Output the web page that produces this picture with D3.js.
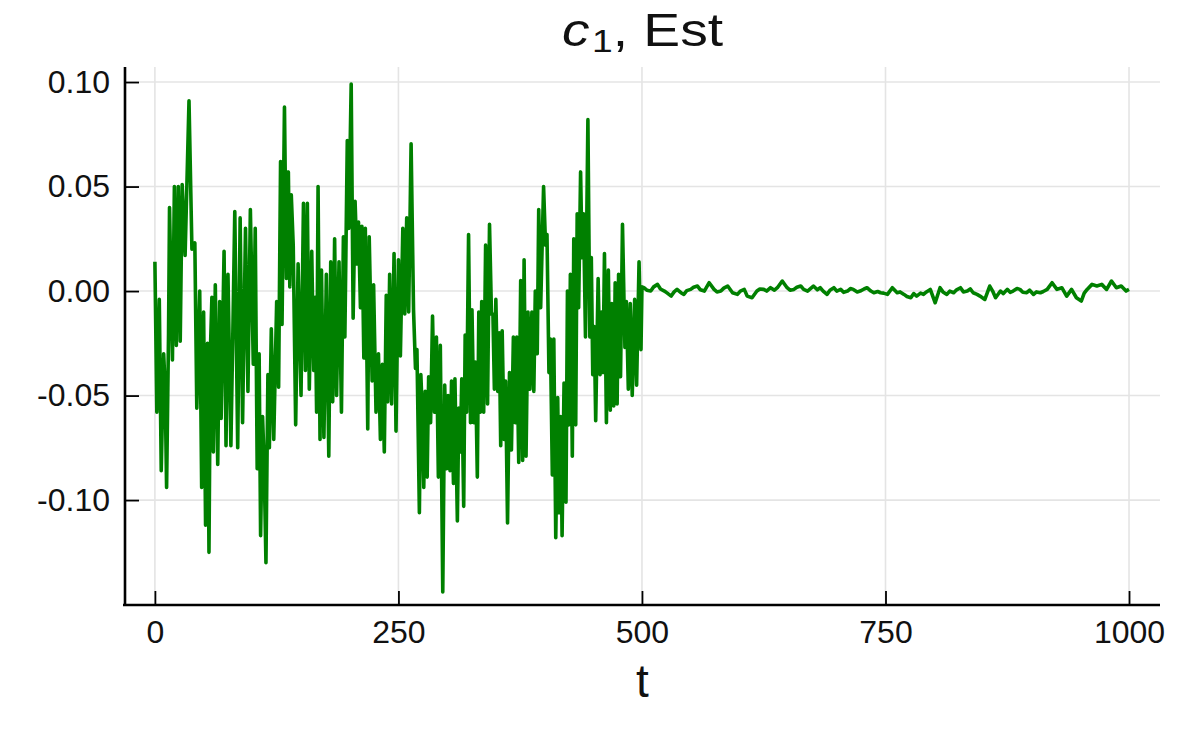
<!DOCTYPE html>
<html><head><meta charset="utf-8">
<script src="https://cdn.jsdelivr.net/npm/d3@7"></script>
<style>body{margin:0;background:#fff}svg{display:block}</style>
</head><body>
<svg id="chart" width="1196" height="734"></svg>
<script>
// ---- data ----
const xTicks = [0, 250, 500, 750, 1000];
const yTicks = [0.10, 0.05, 0.00, -0.05, -0.10];
const yTickLabels = ["0.10", "0.05", "0.00", "-0.05", "-0.10"];

const tEarly = [0,2,4.5,6.5,9,10.5,12,14,15,18,20,22,24,26,28,31,35,38,41,43,46,48,50,52,54,55.5,57,58.5,60,62,64.5,66.5,68,71,73,75,78,80,82,85,87.5,90,93,95.5,98,101,103,105,107,108.5,110.5,112,114,116,117.5,119.5,
122,125,127,129,130.5,133,135,137,138.5,140,142,144.5,147,150,152.5,154.5,156.5,158.5,161,163,164.5,166,167.5,169.5,171,173.5,176,178.5,180.5,182.5,184.5,186.5,189,191.5,193.5,195,197.5,199,201.5,203.5,205.5,207.5,209,211,212.5,214.5,216,218.5,220,223,224.5,227,229.5,231.5,233.5,235.5,237.5,239,241,243,245.5,247.5,
250,252,254.5,256.5,258.5,260.5,263,265.5,267.5,269,271.5,273,274.5,276,277.5,279.5,281,283,285,287,289,291,293,295.5,297.5,299.5,301,303,304.5,306.5,308,310.5,312,313.5,315,317,318.5,320,322,324,325.5,327.5,329,331,332.5,334,335.5,337.5,339.5,341.5,343.5,345.5,347,348.5,350,352,353.5,355,356.5,358.5,360,362,364,366,368,370,371.5,373.5,
375.5,377.5,379,381,383,385,387,389,390.5,392.5,394,396,399,401,402.5,404.5,406,408,409.5,411.5,413.5,415,416.5,418,420,422,423.5,425,426.5,428.5,430,432,433.5,435,437,438.5,440,442,444.5,446.5,448,449.5,451,452.5,455,457,458.5,460,461.5,463.5,465.5,467.5,469,471,472.5,474.5,476,478,480,482.5,484,486,488,490,492.5,494.5,497,499];
const cEarly = [0.014,-0.058,-0.004,-0.086,-0.030,-0.046,-0.094,-0.020,0.040,-0.033,0.050,-0.026,0.050,-0.024,0.051,0.017,0.091,0.020,0.023,-0.056,0.000,-0.094,-0.010,-0.112,-0.025,-0.125,-0.028,-0.003,-0.077,0.003,-0.083,-0.005,-0.061,0.019,-0.074,0.008,-0.074,-0.020,0.038,-0.075,0.035,-0.063,0.030,-0.048,0.039,-0.035,0.030,-0.085,-0.030,-0.117,-0.060,-0.080,-0.130,-0.040,-0.075,-0.018,
-0.071,-0.005,-0.046,0.062,-0.016,0.088,0.006,0.057,0.002,0.046,0.022,-0.064,0.013,-0.050,0.042,-0.038,0.042,-0.047,0.019,-0.038,-0.003,-0.058,0.050,-0.071,0.010,-0.070,0.008,-0.079,0.014,-0.053,0.025,-0.050,0.014,-0.058,0.026,-0.022,0.072,0.030,0.099,-0.013,0.043,0.013,0.033,-0.008,0.031,-0.032,0.030,-0.066,0.026,-0.043,0.003,-0.058,-0.030,-0.071,-0.035,-0.077,-0.002,-0.053,0.008,-0.054,0.018,-0.067,
0.015,-0.031,0.030,-0.011,0.035,-0.010,0.0705,-0.009,-0.037,-0.028,-0.106,-0.040,-0.058,-0.094,-0.048,-0.089,-0.041,-0.063,-0.012,-0.058,-0.022,-0.089,-0.026,-0.144,-0.045,-0.085,-0.050,-0.086,-0.043,-0.092,-0.042,-0.110,-0.056,-0.077,-0.042,-0.103,-0.021,-0.058,0.027,-0.063,-0.009,-0.063,-0.034,-0.089,-0.010,-0.058,-0.005,-0.058,0.022,-0.054,0.032,-0.011,-0.011,-0.047,-0.004,-0.048,-0.020,-0.074,-0.019,-0.071,-0.043,-0.111,-0.039,-0.076,-0.022,-0.063,-0.022,-0.082,
0.005,-0.081,0.015,-0.079,-0.010,-0.047,-0.010,-0.048,0.000,-0.030,0.039,-0.008,0.050,0.022,0.027,-0.039,-0.023,-0.088,-0.023,-0.118,-0.051,-0.106,-0.060,-0.117,-0.044,-0.101,0.000,-0.064,0.008,-0.079,0.025,-0.064,0.037,-0.008,0.057,0.016,0.037,-0.022,0.082,-0.022,0.016,-0.040,-0.017,-0.062,0.006,-0.040,-0.010,-0.039,0.018,-0.063,0.010,-0.057,-0.006,-0.055,0.004,-0.054,0.008,-0.041,0.032,-0.027,-0.005,-0.047,-0.006,-0.050,-0.004,-0.045,0.014,-0.028];

const tLate = [500,502,505,509,512,516,519,523,526,530,533,536,540,543,546,550,553,557,560,564,569,574,577,581,584,588,593,598,601,605,608,613,618,621,625,628,632,636,639,644,649,652,656,659,663,666,670,673,676,680,683,686,690,693,697,700,704,707,711,714,717,721,724,728,731,735,738,742,745,748,752,757,762,765,769,772,776,779,782,786,789,792,796,801,806,809,813,816,820,823,827,830,834,837,840,844,847,852,857,860,863,868,871,875,878,881,885,888,891,895,898,902,905,909,912,916,921,926,931,936,941,946,951,954,957,962,967,972,977,982,987,992,997,1000];
const cLate = [0.002,0.0016,0.0004,0.000,0.0020,0.0032,0.0010,0.000,-0.0010,-0.0024,-0.0004,0.0008,-0.0008,-0.0016,0.0002,0.0008,0.0018,0.0024,0.0006,0.000,0.004,0.0008,-0.0004,0.000,0.0014,0.0024,-0.0008,-0.0016,0.0000,0.0008,-0.0024,-0.0032,0.000,0.0010,0.0008,0.0000,0.0016,0.0004,0.0016,0.0048,0.0016,0.0004,0.0008,0.0018,0.0024,0.0008,0.000,0.0012,0.0024,0.0006,0.0016,0.0000,-0.0016,0.0004,0.0016,0.0000,0.0008,-0.0006,0.000,0.0012,0.0008,-0.0004,0.000,0.0010,0.0016,0.0000,-0.0008,-0.0002,-0.0008,-0.0010,-0.0016,0.0016,-0.0008,-0.0004,-0.0016,-0.0026,-0.0032,-0.0012,-0.0024,-0.0010,-0.0016,-0.0004,0.0008,-0.0056,0.0016,-0.0004,-0.0016,0.0000,-0.0008,0.0006,0.0016,-0.0004,0.000,0.0010,-0.0008,-0.0016,-0.0024,-0.004,0.0024,0.0000,-0.0032,0.000,-0.0012,0.0008,-0.0006,0.000,0.0012,0.0008,-0.0006,-0.0008,0.0004,-0.0016,-0.0004,-0.0008,-0.0002,0.0008,0.004,0.0008,0.0016,-0.0024,0.0008,-0.0032,-0.0048,-0.0010,0.0008,0.0032,0.0024,0.0032,0.0008,0.0048,0.0016,0.0024,0.000,0.0008];

const titleMain = "c", titleSub = "1", titleRest = ", Est";
const xLabel = "t";

// ---- drawing ----
const svg = d3.select("#chart");
const FONT = "Liberation Sans, Arial, sans-serif";
const L = 125, R = 1160, T = 67, B = 605;
const x = d3.scaleLinear().domain([-30.7, 1031.8]).range([L, R]);
const y = d3.scaleLinear().domain([-0.1502, 0.1072]).range([B, T]);

// grid
svg.append("g").selectAll("line").data(xTicks).join("line")
  .attr("x1", d => x(d)).attr("x2", d => x(d)).attr("y1", T).attr("y2", B)
  .attr("stroke", "#e4e4e4").attr("stroke-width", 1.6);
svg.append("g").selectAll("line").data(yTicks).join("line")
  .attr("x1", L).attr("x2", R).attr("y1", d => y(d)).attr("y2", d => y(d))
  .attr("stroke", "#e4e4e4").attr("stroke-width", 1.6);

// line
const pts = tEarly.map((t, i) => [t, cEarly[i]]).concat(tLate.map((t, i) => [t, cLate[i]]));
svg.append("path").datum(pts)
  .attr("d", d3.line().x(d => x(d[0])).y(d => y(d[1])))
  .attr("fill", "none").attr("stroke", "#008000").attr("stroke-width", 3.6)
  .attr("stroke-linejoin", "round");

// axes
const xAxis = d3.axisBottom(x).tickValues(xTicks).tickSize(-14).tickPadding(15).tickFormat(d3.format("d"));
const gx = svg.append("g").attr("transform", `translate(0,${B})`).call(xAxis);
gx.select(".domain").attr("d", `M${L - 2},0H${R}`).attr("stroke", "#000").attr("stroke-width", 2.6);
gx.selectAll(".tick line").attr("stroke", "#000").attr("stroke-width", 1.8);
gx.selectAll(".tick text").attr("font-family", FONT).attr("font-size", 32).attr("fill", "#111");

const yAxis = d3.axisLeft(y).tickValues(yTicks).tickSize(-14).tickPadding(15)
  .tickFormat((d, i) => yTickLabels[i]);
const gy = svg.append("g").attr("transform", `translate(${L},0)`).call(yAxis);
gy.select(".domain").attr("d", `M0,${T}V${B + 1}`).attr("stroke", "#000").attr("stroke-width", 2.6);
gy.selectAll(".tick line").attr("stroke", "#000").attr("stroke-width", 1.8);
gy.selectAll(".tick text").attr("font-family", FONT).attr("font-size", 32).attr("fill", "#111");

// title (slightly stretched horizontally like the reference)
const title = svg.append("text")
  .attr("transform", `translate(${(L + R) / 2},46) scale(1.2,1)`)
  .attr("text-anchor", "middle").attr("font-family", FONT).attr("font-size", 46).attr("fill", "#111");
title.append("tspan").attr("font-style", "italic").text(titleMain);
title.append("tspan").attr("font-size", 31).attr("dy", 6).attr("dx", 2).text(titleSub);
title.append("tspan").attr("dy", -6).text(titleRest);

// x label
svg.append("text").attr("x", (L + R) / 2).attr("y", 697).attr("text-anchor", "middle")
  .attr("font-family", FONT).attr("font-size", 46).attr("fill", "#111").text(xLabel);
</script>
</body></html>
